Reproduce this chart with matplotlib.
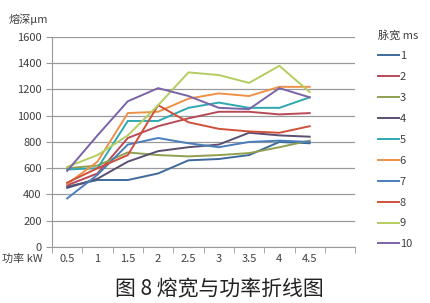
import numpy as np
import matplotlib.pyplot as plt

plt.rcParams['font.family'] = ['Noto Sans CJK SC', 'DejaVu Sans']

# power categories (last slot of the axis is empty)
power_labels = ['0.5', '1', '1.5', '2', '2.5', '3', '3.5', '4', '4.5', '']
pulse_widths = ['1', '2', '3', '4', '5', '6', '7', '8', '9', '10']

s1 = [460, 510, 510, 560, 660, 670, 700, 800, 790]
s2 = [470, 560, 830, 920, 980, 1030, 1030, 1010, 1020]
s3 = [600, 620, 720, 700, 690, 700, 715, 760, 810]
s4 = [450, 520, 650, 730, 760, 780, 870, 850, 840]
s5 = [590, 600, 960, 960, 1060, 1100, 1060, 1060, 1140]
s6 = [480, 650, 1020, 1030, 1130, 1170, 1150, 1220, 1220]
s7 = [370, 550, 780, 830, 790, 760, 800, 810, 800]
s8 = [490, 600, 700, 1080, 950, 900, 880, 870, 920]
s9 = [610, 700, 850, 1080, 1330, 1310, 1250, 1380, 1180]
s10 = [580, 850, 1110, 1210, 1150, 1060, 1050, 1210, 1140]
series = [s1, s2, s3, s4, s5, s6, s7, s8, s9, s10]

colors = ['#3D6A9A', '#B84A58', '#8FA050', '#5A4F72', '#2FA8B0',
          '#EE9147', '#4A7EBB', '#D0503A', '#B5CC60', '#7B63A8']

fig = plt.figure(figsize=(4.3, 3.03), dpi=100)
ax = fig.add_axes([0.121, 0.185, 0.705, 0.693])

x = np.arange(len(s1))
for vals, c, lab in zip(series, colors, pulse_widths):
    ax.plot(x, vals, color=c, lw=1.4, label=lab)

ax.set_xlim(-0.5, len(power_labels) - 0.5)
ax.set_ylim(0, 1600)
ax.set_yticks(np.arange(0, 1601, 200))
ax.yaxis.grid(True, color='#9a9a9a', lw=0.9)
ax.set_axisbelow(True)

ax.set_xticks(np.arange(len(power_labels)))
ax.set_xticklabels(power_labels)
ax.set_xticks(np.arange(-0.5, len(power_labels)), minor=True)
ax.tick_params(axis='x', which='major', length=0, pad=5, labelsize=8, labelcolor='#404040')
ax.tick_params(axis='x', which='minor', length=4, color='#9a9a9a', direction='out')
ax.tick_params(axis='y', length=4, color='#9a9a9a', labelsize=8, labelcolor='#404040')

for side in ['top', 'right']:
    ax.spines[side].set_visible(False)
ax.spines['left'].set_color('#9a9a9a')
ax.spines['bottom'].set_color('#9a9a9a')

fig.text(0.02, 0.925, '熔深μm', fontsize=8, color='#404040')
fig.text(0.005, 0.135, '功率 kW', fontsize=8, color='#404040')

leg = ax.legend(loc='upper left', bbox_to_anchor=(0.855, 0.935),
                bbox_transform=fig.transFigure, frameon=False, fontsize=8,
                handlelength=1.9, handletextpad=0.1, labelspacing=0.98,
                title='脉宽 ms', title_fontsize=8, alignment='left')
for t in leg.get_texts():
    t.set_color('#404040')
leg.get_title().set_color('#404040')

fig.text(0.51, 0.025, '图 8 熔宽与功率折线图', fontsize=15, ha='center', color='#222222')

fig.savefig('out.png', dpi=100)
